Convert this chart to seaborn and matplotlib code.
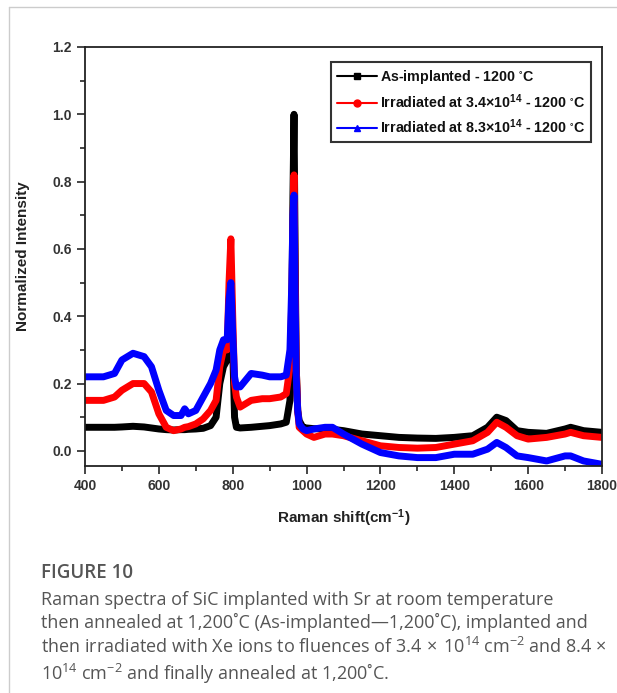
import numpy as np
import pandas as pd
import matplotlib
matplotlib.use("Agg")
import matplotlib.pyplot as plt
from matplotlib.lines import Line2D
from matplotlib.ticker import MultipleLocator
import seaborn as sns

# ---- data ----
raman_shift = [400, 450, 480, 500, 530, 560, 580, 600, 620, 640, 660, 670, 680, 700, 720,
               740, 755, 765, 775, 785, 790, 795, 800, 805, 810, 820, 850, 880, 900, 930,
               945, 955, 960, 963, 966, 969, 972, 976, 980, 990, 1000, 1020, 1050, 1070,
               1100, 1150, 1200, 1250, 1300, 1350, 1400, 1450, 1490, 1515, 1540, 1570,
               1600, 1650, 1700, 1715, 1750, 1800]

as_implanted = [0.070, 0.070, 0.070, 0.071, 0.073, 0.071, 0.068, 0.065, 0.063, 0.062, 0.063, 0.063, 0.064, 0.065, 0.067,
                0.075, 0.100, 0.200, 0.250, 0.270, 0.330, 0.540, 0.300, 0.100, 0.070, 0.068, 0.070, 0.073, 0.075, 0.080,
                0.085, 0.150, 0.400, 0.750, 1.000, 0.600, 0.250, 0.120, 0.090, 0.070, 0.068, 0.066, 0.065, 0.064,
                0.060, 0.050, 0.045, 0.040, 0.038, 0.037, 0.040, 0.045, 0.070, 0.100, 0.090, 0.060,
                0.055, 0.052, 0.065, 0.070, 0.060, 0.055]

irradiated_3_4 = [0.150, 0.150, 0.160, 0.180, 0.200, 0.200, 0.175, 0.110, 0.070, 0.060, 0.065, 0.070, 0.072, 0.080, 0.095,
                  0.120, 0.150, 0.250, 0.300, 0.300, 0.500, 0.630, 0.400, 0.200, 0.160, 0.130, 0.150, 0.155, 0.155, 0.160,
                  0.170, 0.250, 0.450, 0.650, 0.820, 0.500, 0.250, 0.120, 0.070, 0.060, 0.050, 0.040, 0.050, 0.050,
                  0.045, 0.030, 0.015, 0.010, 0.008, 0.010, 0.020, 0.030, 0.055, 0.085, 0.070, 0.045,
                  0.035, 0.040, 0.050, 0.055, 0.045, 0.040]

irradiated_8_3 = [0.220, 0.220, 0.230, 0.270, 0.290, 0.280, 0.250, 0.180, 0.120, 0.105, 0.105, 0.125, 0.110, 0.120, 0.160,
                  0.200, 0.240, 0.300, 0.330, 0.330, 0.450, 0.500, 0.350, 0.220, 0.190, 0.190, 0.230, 0.225, 0.220, 0.220,
                  0.225, 0.300, 0.500, 0.700, 0.760, 0.450, 0.220, 0.120, 0.080, 0.065, 0.060, 0.065, 0.070, 0.070,
                  0.050, 0.020, -0.005, -0.015, -0.020, -0.020, -0.010, -0.010, 0.005, 0.025, 0.010, -0.015,
                  -0.020, -0.030, -0.015, -0.015, -0.030, -0.040]

series_labels = ["As-implanted - 1200 $^{\\circ}$C",
                 "Irradiated at 3.4\u00d710$^{14}$ - 1200 $^{\\circ}$C",
                 "Irradiated at 8.3\u00d710$^{14}$ - 1200 $^{\\circ}$C"]
series_colors = ["#000000", "#ff0000", "#0000ff"]
series_markers = ["s", "o", "^"]

x_ticks = [400, 600, 800, 1000, 1200, 1400, 1600, 1800]
y_ticks = [0.0, 0.2, 0.4, 0.6, 0.8, 1.0, 1.2]

caption_title = "FIGURE 10"
caption_text = ("Raman spectra of SiC implanted with Sr at room temperature\n"
                "then annealed at 1,200\u02daC (As-implanted\u20141,200\u02daC), implanted and\n"
                "then irradiated with Xe ions to fluences of 3.4$\\,\\times\\,$10$^{14}$ cm$^{-2}$ and 8.4 \u00d7\n"
                "10$^{14}$ cm$^{-2}$ and finally annealed at 1,200\u02daC.")

# ---- build table ----
frames = []
for lab, vals in zip(series_labels, [as_implanted, irradiated_3_4, irradiated_8_3]):
    frames.append(pd.DataFrame({"shift": raman_shift, "intensity": vals, "series": lab}))
df = pd.concat(frames, ignore_index=True)

sns.set_style("ticks")
plt.rcParams["font.family"] = ["Liberation Sans", "DejaVu Sans"]
plt.rcParams["mathtext.fontset"] = "custom"
plt.rcParams["mathtext.rm"] = "Liberation Sans"
plt.rcParams["mathtext.default"] = "regular"

fig = plt.figure(figsize=(6.17, 6.93), dpi=100)
ax = fig.add_axes([85 / 617, 1 - 466 / 693, (602 - 85) / 617, (466 - 47) / 693])

sns.lineplot(data=df, x="shift", y="intensity", hue="series", palette=series_colors,
             hue_order=series_labels, ax=ax, linewidth=5, legend=False, sort=False,
             estimator=None)

ax.set_xlim(400, 1800)
ax.set_ylim(-0.045, 1.2)
ax.set_xticks(x_ticks)
ax.set_yticks(y_ticks)
ax.set_yticklabels([f"{v:.1f}" for v in y_ticks])
ax.xaxis.set_minor_locator(MultipleLocator(100))
ax.yaxis.set_minor_locator(MultipleLocator(0.1))
ax.tick_params(axis="both", which="major", direction="out", length=6, width=1.2,
               labelsize=10, labelcolor="#333333")
ax.tick_params(axis="both", which="minor", direction="out", length=3.5, width=1.2)
for lab in ax.get_xticklabels() + ax.get_yticklabels():
    lab.set_fontweight("bold")
for sp in ax.spines.values():
    sp.set_visible(True)
    sp.set_linewidth(1.3)
    sp.set_color("#222222")

ax.set_xlabel("Raman shift(cm$^{-1}$)", fontsize=11, fontweight="bold", color="#222222", labelpad=10)
ax.set_ylabel("Normalized Intensity", fontsize=11, fontweight="bold", color="#222222", labelpad=16)

handles = [Line2D([0], [0], color=c, marker=m, markersize=5, linewidth=1.5)
           for c, m in zip(series_colors, series_markers)]
leg = ax.legend(handles, series_labels, loc="upper right",
                bbox_to_anchor=((598 - 85) / 517, 1 - (55 - 47) / 419),
                frameon=True, fancybox=False, handlelength=2.8, handletextpad=0.2,
                borderpad=0.4, labelspacing=0.45, prop={"size": 10.3, "weight": "bold"})
leg.get_frame().set_edgecolor("#000000")
leg.get_frame().set_linewidth(1.5)
for t in leg.get_texts():
    t.set_color("#111111")

# panel border lines
fig.add_artist(Line2D([9 / 617, 9 / 617], [0, 1 - 7 / 693], color="#cccccc", linewidth=1))
fig.add_artist(Line2D([9 / 617, 1], [1 - 7 / 693, 1 - 7 / 693], color="#cccccc", linewidth=1))

# caption
fig.text(41 / 617, 1 - 573 / 693, caption_title, fontsize=13.5, color="#555555",
         family=["Open Sans", "DejaVu Sans"], fontweight="semibold", va="center", ha="left")
with plt.rc_context({"mathtext.rm": "Open Sans"}):
    fig.text(41 / 617, 1 - 591 / 693, caption_text, fontsize=13, color="#555555",
             family=["Open Sans", "DejaVu Sans"], va="top", ha="left", linespacing=1.27)

fig.savefig("out.png", dpi=100)
